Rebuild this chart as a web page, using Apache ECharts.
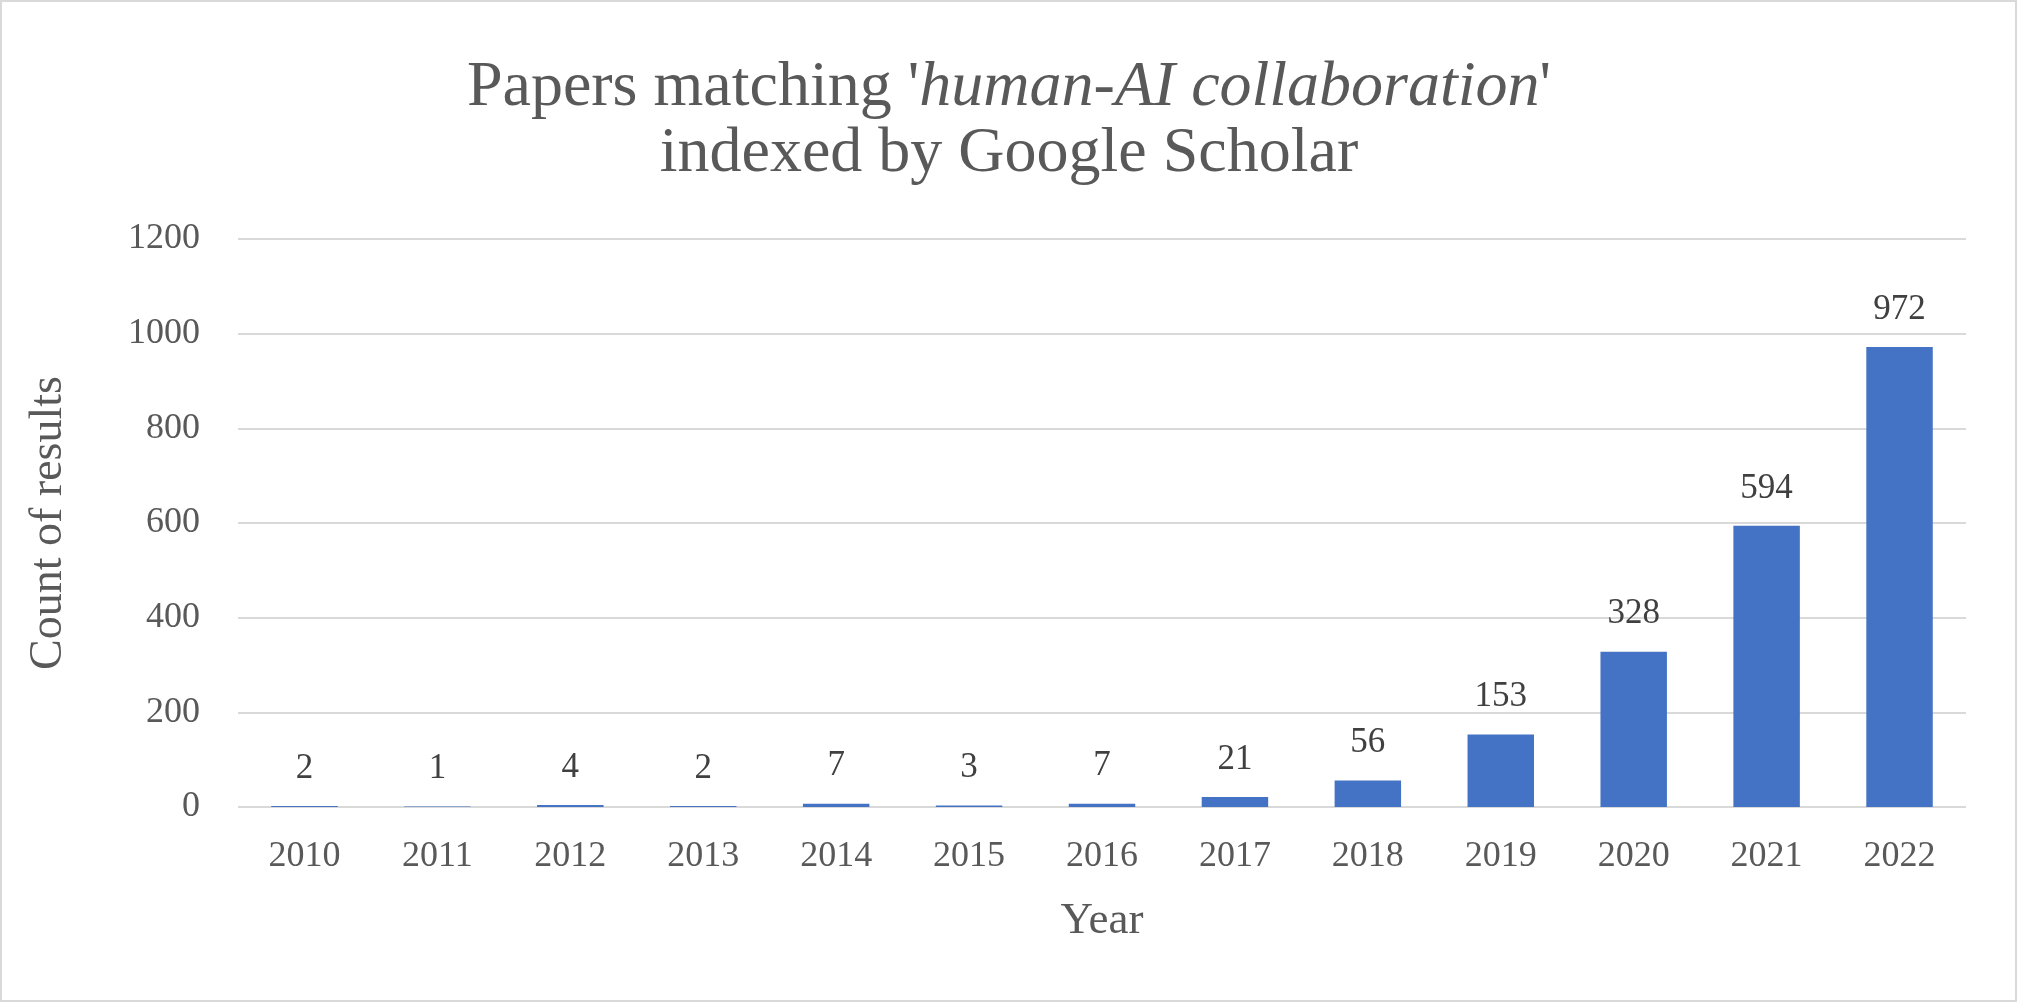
<!DOCTYPE html>
<html>
<head>
<meta charset="utf-8">
<script src="https://cdn.jsdelivr.net/npm/echarts@6/dist/echarts.min.js"></script>
<style>
html,body{margin:0;padding:0;background:#fff;}
#chart{width:2018px;height:1003px;}
</style>
</head>
<body>
<div id="chart"></div>
<script>
var years = ['2010','2011','2012','2013','2014','2015','2016','2017','2018','2019','2020','2021','2022'];
var counts = [2, 1, 4, 2, 7, 3, 7, 21, 56, 153, 328, 594, 972];
var yTicks = [0, 200, 400, 600, 800, 1000, 1200];

var FONT = '"Liberation Serif", "DejaVu Serif", serif';
var chart = echarts.init(document.getElementById('chart'));
chart.setOption({
  backgroundColor: '#ffffff',
  animation: false,
  graphic: [{
    type: 'rect',
    shape: {x: 1, y: 1, width: 2015, height: 1000},
    style: {fill: 'none', stroke: '#d9d9d9', lineWidth: 2},
    silent: true
  }],
  title: {
    text: "Papers matching '{i|human-AI collaboration}'\nindexed by Google Scholar",
    left: 'center',
    top: 50,
    textStyle: {
      fontFamily: FONT,
      fontSize: 64,
      fontWeight: 'normal',
      color: '#595959',
      lineHeight: 66,
      rich: {
        i: {fontFamily: FONT, fontSize: 64, fontStyle: 'italic', color: '#595959', lineHeight: 66}
      }
    }
  },
  grid: {left: 238, right: 52, top: 239, bottom: 196, containLabel: false},
  xAxis: {
    type: 'category',
    data: years,
    name: 'Year',
    nameLocation: 'middle',
    nameGap: 92,
    nameTextStyle: {fontFamily: FONT, fontSize: 45, color: '#595959'},
    axisLine: {show: false},
    axisTick: {show: false},
    axisLabel: {fontFamily: FONT, fontSize: 36, color: '#595959', margin: 32}
  },
  yAxis: {
    type: 'value',
    min: yTicks[0],
    max: yTicks[yTicks.length - 1],
    interval: yTicks[1] - yTicks[0],
    name: 'Count of results',
    nameLocation: 'middle',
    nameGap: 166,
    nameTextStyle: {fontFamily: FONT, fontSize: 46, color: '#595959'},
    axisLine: {show: false},
    axisTick: {show: false},
    axisLabel: {fontFamily: FONT, fontSize: 36, color: '#595959', margin: 38, formatter: function (v) { return String(v); }},
    splitLine: {lineStyle: {color: '#d9d9d9', width: 2}}
  },
  series: [{
    type: 'bar',
    data: counts,
    barCategoryGap: '50%',
    itemStyle: {color: '#4472c4'},
    label: {
      show: true,
      position: 'top',
      distance: 20,
      fontFamily: FONT,
      fontSize: 35,
      color: '#404040'
    }
  }]
});
</script>
</body>
</html>
